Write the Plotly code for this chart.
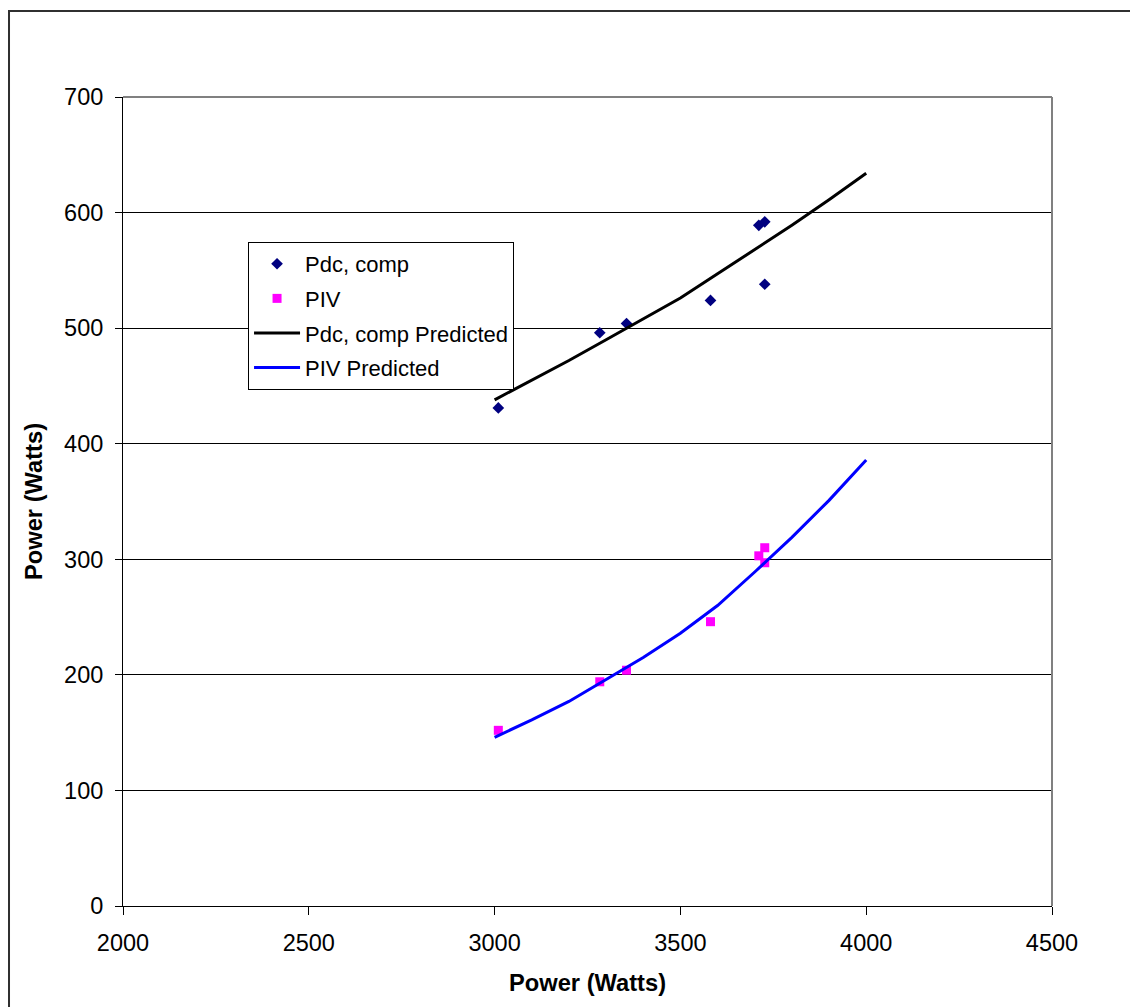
import plotly.graph_objects as go

# Measured data
x_meas = [3010, 3283, 3355, 3581, 3711, 3727, 3727]
pdc_comp = [431, 496, 504, 524, 589, 592, 538]
piv = [152, 194, 204, 246, 303, 310, 297]

# Predicted curves
x_pred = [3000, 3100, 3200, 3300, 3400, 3500, 3600, 3700, 3800, 3900, 4000]
pdc_pred = [438, 455, 472, 490, 508, 526, 547, 568, 589, 611, 634]
piv_pred = [146, 161, 177, 196, 215, 236, 260, 289, 319, 351, 386]

x_ticks = [2000, 2500, 3000, 3500, 4000, 4500]
y_ticks = [0, 100, 200, 300, 400, 500, 600, 700]

FONT = "Liberation Sans, Arial, sans-serif"

fig = go.Figure()
fig.add_trace(go.Scatter(x=x_meas, y=pdc_comp, mode="markers", name="Pdc, comp",
                         legendgroup="a",
                         marker=dict(symbol="diamond", size=9, color="#000080")))
fig.add_trace(go.Scatter(x=x_meas, y=piv, mode="markers", name="PIV",
                         legendgroup="b",
                         marker=dict(symbol="square", size=9, color="#FF00FF")))
fig.add_trace(go.Scatter(x=x_pred, y=pdc_pred, mode="lines", name="Pdc, comp Predicted",
                         legendgroup="c",
                         line=dict(color="black", width=3)))
fig.add_trace(go.Scatter(x=x_pred, y=piv_pred, mode="lines", name="PIV Predicted",
                         legendgroup="d",
                         line=dict(color="#0000FF", width=3)))

fig.update_layout(
    width=1130, height=1007,
    margin=dict(l=123, r=78, t=97, b=101, autoexpand=False),
    paper_bgcolor="white", plot_bgcolor="white",
    font=dict(family=FONT, size=22, color="black"),
    showlegend=True,
    legend=dict(x=0.1346, y=0.8208, xanchor="left", yanchor="top",
                bgcolor="white", bordercolor="black", borderwidth=1,
                font=dict(size=22), traceorder="grouped", tracegroupgap=3,
                itemwidth=46),
    xaxis=dict(range=[2000, 4500], tickvals=x_ticks, showgrid=False, zeroline=False,
               showline=True, linecolor="black", linewidth=1,
               ticks="outside", ticklen=8, tickcolor="black", ticklabelstandoff=8,
               tickfont=dict(size=23.5),
               title=dict(text="<b>Power (Watts)</b>", standoff=19,
                          font=dict(size=23.7))),
    yaxis=dict(range=[0, 700], tickvals=y_ticks, showgrid=True, gridcolor="black",
               gridwidth=1, zeroline=False,
               showline=True, linecolor="black", linewidth=1,
               ticks="outside", ticklen=7, tickcolor="black", ticklabelstandoff=7,
               tickfont=dict(size=23.5),
               title=dict(text="<b>Power (Watts)</b>", standoff=14,
                          font=dict(size=23.7))),
    shapes=[
        # plot area border (top and right, gray)
        dict(type="line", xref="paper", yref="paper", x0=0, x1=1, y0=1, y1=1,
             line=dict(color="#808080", width=2), layer="above"),
        dict(type="line", xref="paper", yref="paper", x0=1, x1=1, y0=0, y1=1,
             line=dict(color="#808080", width=2), layer="above"),
        # outer chart border
        dict(type="rect", xref="paper", yref="paper", x0=-0.1227, x1=1.0947,
             y0=-0.1347, y1=1.1063, line=dict(color="#303030", width=2),
             fillcolor="rgba(0,0,0,0)", layer="above"),
    ],
)

fig.write_html("out.html")
